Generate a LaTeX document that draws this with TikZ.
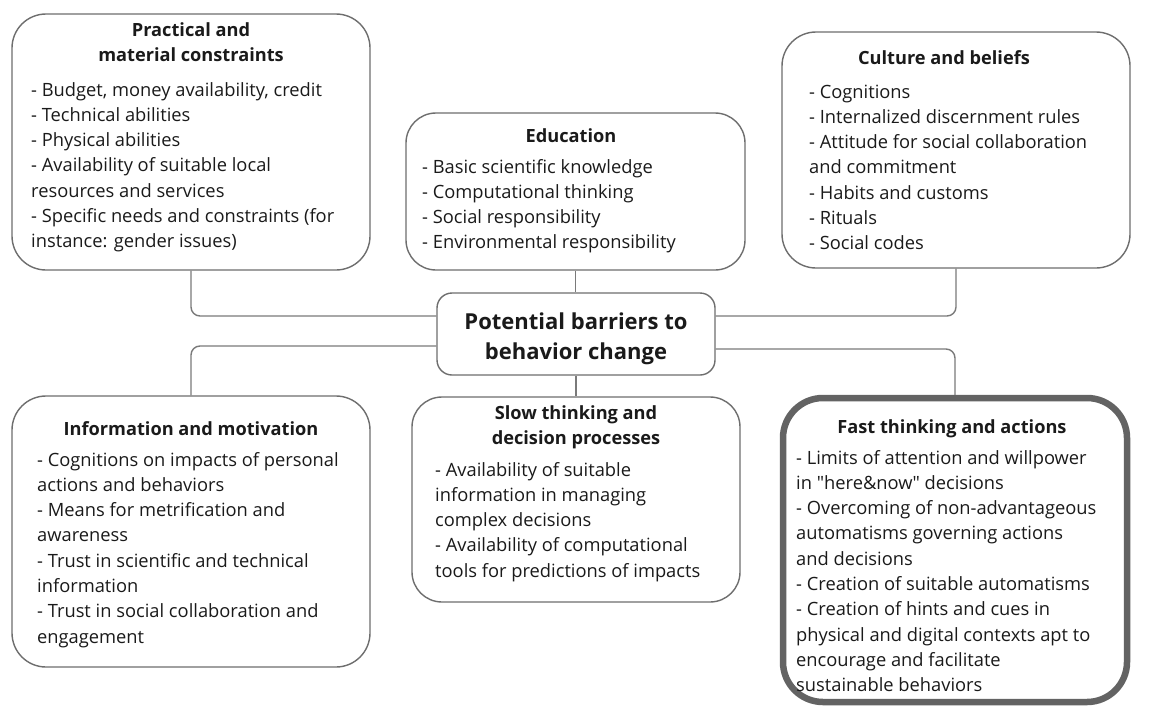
\documentclass[tikz,border=0pt]{standalone}
\usepackage{fontspec}
\setmainfont{Open Sans}
\definecolor{inkc}{HTML}{1A1A1A}
\definecolor{framec}{HTML}{6E6E6E}
\definecolor{wirec}{HTML}{7A7A7A}
\begin{document}
\begin{tikzpicture}[x=1pt,y=-1pt,
  box/.style={draw=framec, line width=1.4pt, rounded corners=#1, inner sep=0pt, fill=white},
  box/.default=34pt,
  fastbox/.style={draw=framec!90!black, line width=6.5pt, rounded corners=40pt, inner sep=0pt},
  hub/.style={draw=framec, line width=1.4pt, rounded corners=15pt, inner sep=0pt},
  head/.style={anchor=base, inner sep=0pt, text=inkc, font=\fontsize{18.2}{25.3}\selectfont\bfseries},
  hubtext/.style={anchor=base, inner sep=0pt, text=inkc, font=\fontsize{22}{30}\selectfont\bfseries},
  items/.style={anchor=base west, inner sep=0pt, text=inkc, font=\fontsize{18.3}{25.3}\selectfont},
  conn/.style={draw=wirec, line width=1.4pt, rounded corners=9pt}
]
\useasboundingbox (0,0) rectangle (1150,707);
\fill[white] (0,0) rectangle (1150,707);

% central hub
\node[hub, minimum width=278pt, minimum height=82pt] (hub) at (576,334) {};
\node[hubtext] (hubt) at (576,329) {\begin{tabular}[t]{@{}c@{}}Potential barriers to\\ behavior change\end{tabular}};

% practical and material constraints
\node[box, minimum width=358pt, minimum height=256pt] (prac) at (191,142) {};
\node[head] (pract) at (191,36) {\begin{tabular}[t]{@{}c@{}}Practical and\\ material constraints\end{tabular}};
\node[items] (pracb) at (31,96) {\begin{tabular}[t]{@{}l@{}}
- Budget, money availability, credit\\
- Technical abilities\\
- Physical abilities\\
- Availability of suitable local\\
resources and services\\
- Specific needs and constraints (for\\
instance: gender issues)
\end{tabular}};

% education
\node[box=30pt, minimum width=339pt, minimum height=157pt] (edu) at (575.5,191.5) {};
\node[head] (edut) at (571,142) {Education};
\node[items] (edub) at (422,173) {\begin{tabular}[t]{@{}l@{}}
- Basic scientific knowledge\\
- Computational thinking\\
- Social responsibility\\
- Environmental responsibility
\end{tabular}};

% culture and beliefs
\node[box, minimum width=348pt, minimum height=236pt] (cult) at (956,150) {};
\node[head] (cultt) at (944,64) {Culture and beliefs};
\node[items] (cultb) at (809,98) {\begin{tabular}[t]{@{}l@{}}
- Cognitions\\
- Internalized discernment rules\\
- Attitude for social collaboration\\
and commitment\\
- Habits and customs\\
- Rituals\\
- Social codes
\end{tabular}};

% information and motivation
\node[box, minimum width=358pt, minimum height=271pt] (info) at (191,531.5) {};
\node[head] (infot) at (191,435) {Information and motivation};
\node[items] (infob) at (37,466) {\begin{tabular}[t]{@{}l@{}}
- Cognitions on impacts of personal\\
actions and behaviors\\
- Means for metrification and\\
awareness\\
- Trust in scientific and technical\\
information\\
- Trust in social collaboration and\\
engagement
\end{tabular}};

% slow thinking and decision processes
\node[box=30pt, minimum width=328pt, minimum height=205pt] (slow) at (576,499.5) {};
\node[head] (slowt) at (576,419) {\begin{tabular}[t]{@{}c@{}}Slow thinking and\\ decision processes\end{tabular}};
\node[items] (slowb) at (435,476) {\begin{tabular}[t]{@{}l@{}}
- Availability of suitable\\
information in managing\\
complex decisions\\
- Availability of computational\\
tools for predictions of impacts
\end{tabular}};

% fast thinking and actions (highlighted)
\node[fastbox, minimum width=344pt, minimum height=304pt] (fast) at (955,550) {};
\node[head] (fastt) at (952,433) {Fast thinking and actions};
\node[items] (fastb) at (796,464) {\begin{tabular}[t]{@{}l@{}}
- Limits of attention and willpower\\
in \textquotedbl here\&now\textquotedbl{} decisions\\
- Overcoming of non-advantageous\\
automatisms governing actions\\
and decisions\\
- Creation of suitable automatisms\\
- Creation of hints and cues in\\
physical and digital contexts apt to\\
encourage and facilitate\\
sustainable behaviors
\end{tabular}};

% connectors to the hub
\draw[conn] (prac.south) |- ([yshift=18pt]hub.west);
\draw[conn] (cult.south) |- ([yshift=18pt]hub.east);
\draw[conn] ([yshift=-12pt]hub.west) -| (info.north);
\draw[conn] ([yshift=-15pt]hub.east) -| (fast.north);
\draw[conn] (edu.south) -- (edu.south |- hub.north);
\draw[conn] (hub.south) -- (hub.south |- slow.north);
\end{tikzpicture}
\end{document}
